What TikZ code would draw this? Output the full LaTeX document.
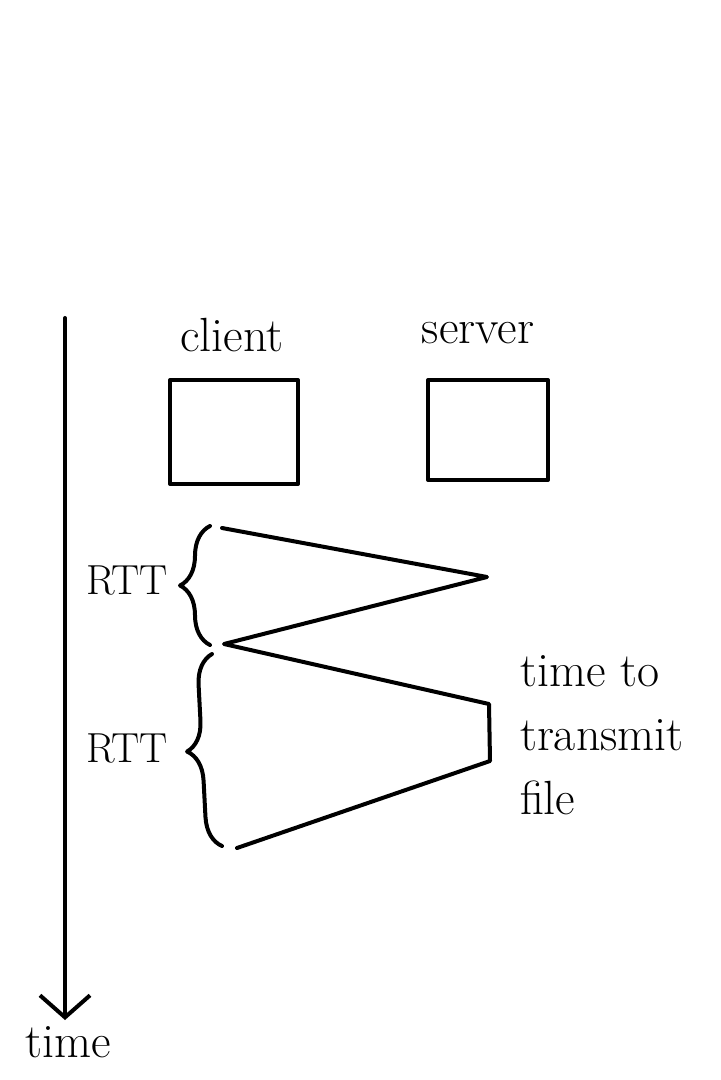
\documentclass[tikz,border=0pt]{standalone}
\usetikzlibrary{positioning, arrows.meta, decorations.pathreplacing}

\begin{document}
\begin{tikzpicture}[x=0.5pt,y=-0.5pt,line width=2pt,line join=round,line cap=round,
    host/.style={draw,minimum width=64pt,minimum height=52pt,inner sep=0pt},
    lbl/.style={font=\fontsize{24}{32}\selectfont,inner sep=0pt},
    rtt/.style={decorate,decoration={brace,amplitude=15pt}}]
  \useasboundingbox (0,0) rectangle (720,1080);
  % time axis
  \coordinate (t0) at (65,318);
  \coordinate (t1) at (65,1020);
  \draw[-{Straight Barb[length=11pt,width=25pt]}] (t0) -- (t1);
  \node[lbl] (time) at (68,1042) {time};
  % hosts
  \node[host] (client) at (234,432) {};
  \node[host,minimum width=60pt,minimum height=50pt] (server) at (488,430) {};
  \node[lbl] (cl) at (232,335) {client};
  \node[lbl] (sv) at (478,333) {server};
  % message points
  \coordinate (c1) at (222,528);
  \coordinate (s1) at (487,577);
  \coordinate (c2) at (224,644);
  \coordinate (s2) at (489,704);
  \coordinate (s3) at (490,761);
  \coordinate (c3) at (237,848);
  \draw (c1) -- (s1) -- (c2) -- (s2) -- (s3) -- (c3);
  % braces
  \coordinate (b1) at (210,526);
  \coordinate (b2) at (210,645);
  \coordinate (b3) at (212,654);
  \coordinate (b4) at (222,846);
  \draw[rtt] (b2) -- (b1);
  \draw[rtt] (b4) -- (b3);
  \node[lbl,font=\fontsize{21}{24}\selectfont,anchor=east] (rtt1) at (170,580) {RTT};
  \node[lbl,font=\fontsize{21}{24}\selectfont,anchor=east] (rtt2) at (170,748) {RTT};
  \node[lbl,anchor=north west,align=left] (tx) at (518,654) {time to\\transmit\\file};
\end{tikzpicture}
\end{document}
